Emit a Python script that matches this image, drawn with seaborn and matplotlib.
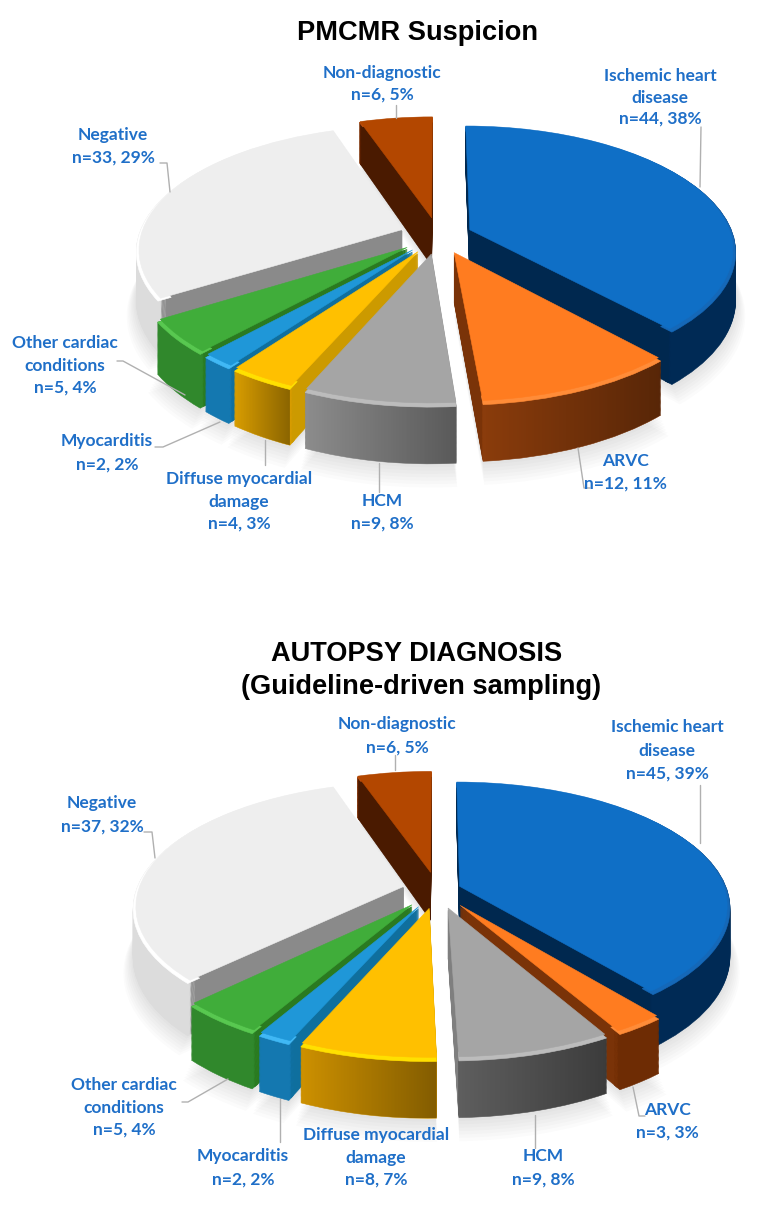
import numpy as np
import seaborn as sns
import matplotlib.pyplot as plt
from matplotlib.path import Path
from matplotlib.transforms import Transform

# slices, clockwise from 12 o'clock
categories = ['Ischemic heart disease', 'ARVC', 'HCM', 'Diffuse myocardial damage',
              'Myocarditis', 'Other cardiac conditions', 'Negative', 'Non-diagnostic']
pmcmr_n = [44, 12, 9, 4, 2, 5, 33, 6]
autopsy_n = [45, 3, 9, 8, 2, 5, 37, 6]
pmcmr_pct = [38, 11, 8, 3, 2, 4, 29, 5]
autopsy_pct = [39, 3, 8, 7, 2, 4, 32, 5]

top_colors = ['#0f6fc6', '#ff7c20', '#a5a5a5', '#ffc000', '#1f97d8', '#40ad3a', '#eeeeee', '#b34700']
wall_colors = ['#002a55', '#8a3c0c', '#8c8c8c', '#d79c00', '#1478b0', '#30882c', '#dcdcdc', '#7a2c00']
wall_colors2 = ['#002a55', '#6e2c04', '#5e5e5e', '#cc9000', '#1478b0', '#30882c', '#dcdcdc', '#7a2c00']
face_colors = ['#00284f', '#7a3308', '#7f7f7f', '#cc9a00', '#0f6f9e', '#2a7a20', '#8a8a8a', '#4a1a00']
bevel_colors = ['#1568b8', '#ff8c38', '#bcbcbc', '#ffe000', '#40b8f5', '#58c850', '#ffffff', '#c05010']

TILT = 0.15
DEPTH = 49
TEXT_BLUE = '#1f6fc8'
LEADER = '#b0b0b0'


class Tilt(Transform):
    # unit pie -> picture pixels, back of the pie shrinks
    input_dims = 2
    output_dims = 2

    def __init__(self, hub, rx, ry, z):
        super().__init__()
        self.hub, self.rx, self.ry, self.z = hub, rx, ry, z

    def transform_non_affine(self, values):
        x, y = values[:, 0], values[:, 1]
        s = 1 / (1 + TILT * y)
        return np.column_stack((self.hub[0] + self.rx * x * s,
                                self.hub[1] - self.ry * y * s + self.z * s))


def draw_pie(ax, values, explode, hub, rx, ry, walls, shaded):
    def layer(colors, z, radius=1.0, width=None, zorder=1, alpha=None):
        props = {'linewidth': 0.4, 'zorder': zorder}
        if width:
            props['width'] = width
        wedges, _ = ax.pie(values, colors=colors, explode=explode, startangle=90,
                           counterclock=False, radius=radius, wedgeprops=props)
        tr = Tilt(hub, rx, ry, z) + ax.transData
        for w, c in zip(wedges, colors):
            w.set_edgecolor(c)
            w.set_transform(tr)
            if alpha:
                w.set_alpha(alpha)
                w.set_linewidth(0)
        return wedges

    # soft shadow under the pie
    for dz in range(14, 0, -2):
        layer(['black'] * 8, DEPTH + dz, radius=1 + dz / 400, alpha=0.014)
    for z in np.arange(DEPTH, 1, -1.0):
        rim = layer(walls, z, width=0.03)
        layer(face_colors, z, radius=0.985)
    # darken the outer wall to the right on the front slices
    for i in shaded:
        w = rim[i]
        t = np.radians(np.linspace(w.theta1, w.theta2, 40))
        pts = np.column_stack((w.center[0] + np.cos(t), w.center[1] + np.sin(t)))
        upper = Tilt(hub, rx, ry, 2).transform_non_affine(pts)
        lower = Tilt(hub, rx, ry, DEPTH).transform_non_affine(pts)
        poly = np.vstack((upper, lower[::-1]))
        shade = np.zeros((1, 64, 4))
        shade[0, :, 3] = np.linspace(0, 0.36, 64)
        im = ax.imshow(shade, aspect='auto', interpolation='bilinear', zorder=1.5,
                       extent=(poly[:, 0].min(), poly[:, 0].max(), poly[:, 1].max(), poly[:, 1].min()))
        im.set_clip_path(Path(poly), ax.transData)
    layer(bevel_colors, 2, width=0.05, zorder=1.6)
    layer(top_colors, 0, radius=0.99, zorder=1.7)


def draw_labels(ax, labels, leaders):
    for x, ys, lines in labels:
        for y, line in zip(ys, lines):
            ax.text(x, y, line, color=TEXT_BLUE, fontsize=12.5, fontweight='bold',
                    family='Lato', ha='center', va='center')
    for xs, ys in leaders:
        ax.plot(xs, ys, color=LEADER, lw=1)


def lab(n, pct):
    return f'n={n}, {pct}%'


sns.set_theme(style='white')
fig = plt.figure(figsize=(7.74, 12.15), dpi=100)
ax = fig.add_axes([0, 0, 1, 1])

draw_pie(ax, pmcmr_n, [0.13, 0.15, 0.15, 0.15, 0.15, 0.15, 0.145, 0.15],
         (438, 235.5), 264, 122, wall_colors, [1, 2, 3])
draw_pie(ax, autopsy_n, [0.09, 0.15, 0.15, 0.15, 0.15, 0.15, 0.128, 0.15],
         (437, 890), 268, 122, wall_colors2, [2, 3])

pmcmr_labels = [
    (660, [76, 98, 119], ['Ischemic heart', 'disease', lab(pmcmr_n[0], pmcmr_pct[0])]),
    (625, [461, 484], ['ARVC', lab(pmcmr_n[1], pmcmr_pct[1])]),
    (382, [501, 524], ['HCM', lab(pmcmr_n[2], pmcmr_pct[2])]),
    (239, [479, 502, 524], ['Diffuse myocardial', 'damage', lab(pmcmr_n[3], pmcmr_pct[3])]),
    (107, [441, 465], ['Myocarditis', lab(pmcmr_n[4], pmcmr_pct[4])]),
    (65, [343, 366, 388], ['Other cardiac', 'conditions', lab(pmcmr_n[5], pmcmr_pct[5])]),
    (113, [135, 158], ['Negative', lab(pmcmr_n[6], pmcmr_pct[6])]),
    (382, [73, 95], ['Non-diagnostic', lab(pmcmr_n[7], pmcmr_pct[7])]),
]
pmcmr_leaders = [
    ([701, 700], [127, 187]),
    ([578, 584, 590], [448, 488, 488]),
    ([379, 379], [463, 492]),
    ([265, 265], [440, 465]),
    ([155, 163, 220], [447, 447, 422]),
    ([117, 123, 185], [361, 361, 395]),
    ([160, 167, 170], [163, 163, 192]),
    ([396, 396], [105, 118]),
]
autopsy_labels = [
    (667, [727, 751, 774], ['Ischemic heart', 'disease', lab(autopsy_n[0], autopsy_pct[0])]),
    (667, [1110, 1133], ['ARVC', lab(autopsy_n[1], autopsy_pct[1])]),
    (543, [1156, 1180], ['HCM', lab(autopsy_n[2], autopsy_pct[2])]),
    (376, [1135, 1158, 1180], ['Diffuse myocardial', 'damage', lab(autopsy_n[3], autopsy_pct[3])]),
    (243, [1156, 1180], ['Myocarditis', lab(autopsy_n[4], autopsy_pct[4])]),
    (124, [1085, 1108, 1130], ['Other cardiac', 'conditions', lab(autopsy_n[5], autopsy_pct[5])]),
    (102, [803, 827], ['Negative', lab(autopsy_n[6], autopsy_pct[6])]),
    (397, [724, 748], ['Non-diagnostic', lab(autopsy_n[7], autopsy_pct[7])]),
]
autopsy_leaders = [
    ([700, 700], [785, 843]),
    ([633, 639, 645], [1087, 1116, 1116]),
    ([535, 535], [1115, 1148]),
    ([280, 280], [1099, 1142]),
    ([182, 188, 228], [1102, 1102, 1079]),
    ([144, 152, 155], [832, 832, 858]),
    ([395, 395], [755, 770]),
]
draw_labels(ax, pmcmr_labels, pmcmr_leaders)
draw_labels(ax, autopsy_labels, autopsy_leaders)

title_font = dict(family='Liberation Sans', fontweight='bold', fontsize=19.6, color='black',
                  ha='center', va='center')
ax.text(418, 33, 'PMCMR Suspicion', **title_font)
ax.text(417, 654, 'AUTOPSY DIAGNOSIS', **title_font)
ax.text(421, 687, '(Guideline-driven sampling)', **title_font)

ax.set_aspect('auto')
ax.set_xlim(0, 774)
ax.set_ylim(1215, 0)
ax.axis('off')
fig.savefig('out.png', dpi=100)
